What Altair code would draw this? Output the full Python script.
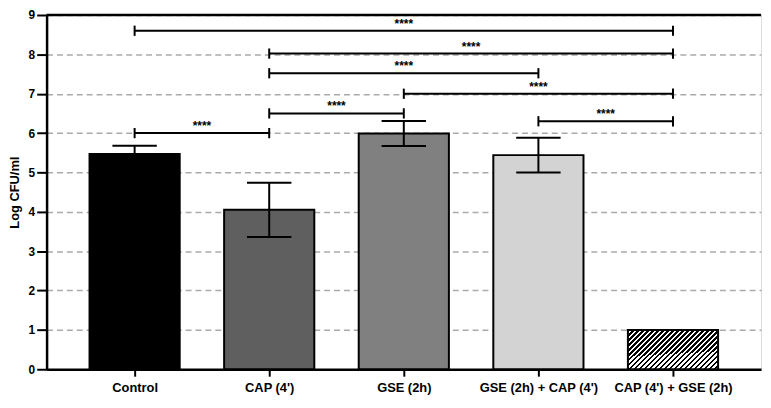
import json
import altair as alt
import pandas as pd

# ---------------- data ----------------
groups = ["Control", "CAP (4')", "GSE (2h)", "GSE (2h) + CAP (4')", "CAP (4') + GSE (2h)"]
means = [5.47, 4.05, 5.99, 5.44, 1.0]
errors = [0.21, 0.69, 0.32, 0.44, 0.0]
fills = ["#000000", "#5f5f5f", "#808080", "#d3d3d3", "hatch"]

br_from = [0, 1, 1, 2, 1, 3, 0]
br_to = [4, 4, 3, 4, 2, 4, 1]
br_level = [8.6, 8.02, 7.52, 7.0, 6.5, 6.3, 6.0]
br_label = ["****", "****", "****", "****", "****", "****", "****"]

y_ticks = [0, 1, 2, 3, 4, 5, 6, 7, 8, 9]
y_top = [9]

# ---------------- tables ----------------
bars = pd.DataFrame({"idx": list(range(len(groups))), "group": groups,
                     "mean": means, "err": errors, "fill": fills})
brackets = pd.DataFrame({"from": br_from, "to": br_to, "level": br_level, "label": br_label})
top = pd.DataFrame({"v": y_top})

xscale = alt.Scale(domain=[-0.654, 4.654], nice=False, zero=False)
yscale = alt.Scale(domain=[0, 9], nice=False)

label_expr = json.dumps(groups) + "[datum.value]"

x_axis = alt.Axis(values=[0, 1, 2, 3, 4], tickCount=20, labelExpr=label_expr, title=None, grid=False,
                  labelFontSize=13, labelFontWeight="bold", labelColor="black",
                  tickSize=7, tickWidth=2, tickColor="black", labelPadding=5,
                  domainColor="black", domainWidth=2.5, labelFlush=False, labelOverlap=False)
y_axis = alt.Axis(values=y_ticks, tickCount=20, format="d", title="Log CFU/ml",
                  titleFontSize=13, titleFontWeight="bold",
                  titleColor="black", titleX=-25, titleY=179,
                  labelFontSize=12, labelFontWeight="bold", labelColor="black",
                  labelOverlap=False, labelFlush=False,
                  tickSize=10, tickWidth=2, tickColor="black", labelPadding=2,
                  domainColor="black", domainWidth=2.5,
                  grid=True, gridDash=[6, 4], gridColor="#aaaaaa", gridWidth=1.5)


def X(field):
    return alt.X(field, scale=xscale, axis=x_axis)


def Y(field):
    return alt.Y(field, scale=yscale, axis=y_axis)


base = alt.Chart(bars).transform_calculate(
    lo="datum.idx - 0.335", hi="datum.idx + 0.335", base="0",
    ylo="datum.mean - datum.err", yhi="datum.mean + datum.err",
    clo="datum.idx - 0.165", chi="datum.idx + 0.165")

solid = base.transform_filter("datum.fill != 'hatch'").mark_bar(
    stroke="black", strokeWidth=2).encode(
    x=X("lo:Q"), x2="hi:Q", y=Y("mean:Q"), y2="base:Q",
    fill=alt.Fill("fill:N", scale=None),
)

# diagonal hatch via hard-stop linear gradient
n = 26
stops = []
for k in range(n):
    s, m, e = k / n, (k + 0.5) / n, (k + 1) / n
    stops += [alt.GradientStop(color="black", offset=s), alt.GradientStop(color="black", offset=m),
              alt.GradientStop(color="white", offset=m), alt.GradientStop(color="white", offset=e)]
hatch_fill = alt.LinearGradient(gradient="linear", stops=stops, x1=0, y1=0, x2=1.206, y2=0.532)

hatched = base.transform_filter("datum.fill == 'hatch'").mark_bar(
    fill=hatch_fill, stroke="black", strokeWidth=2).encode(
    x=X("lo:Q"), x2="hi:Q", y=Y("mean:Q"), y2="base:Q")

eb = base.transform_filter("datum.err > 0")
err_v = eb.mark_rule(color="black", strokeWidth=2).encode(
    x=X("idx:Q"), y=Y("ylo:Q"), y2="yhi:Q")
cap_hi = eb.mark_rule(color="black", strokeWidth=2).encode(
    x=X("clo:Q"), x2="chi:Q", y=Y("yhi:Q"))
cap_lo = eb.mark_rule(color="black", strokeWidth=2).encode(
    x=X("clo:Q"), x2="chi:Q", y=Y("ylo:Q"))

bbase = alt.Chart(brackets)
br_line = bbase.mark_rule(color="black", strokeWidth=2).encode(
    x=X("from:Q"), x2="to:Q", y=Y("level:Q"))
br_ends = bbase.transform_fold(["from", "to"], as_=["side", "pos"]).transform_calculate(
    e0="datum.level - 0.13", e1="datum.level + 0.13").mark_rule(
    color="black", strokeWidth=2).encode(
    x=X("pos:Q"), y=Y("e0:Q"), y2="e1:Q")
br_text = bbase.transform_calculate(mid="(datum.from + datum.to) / 2").mark_text(
    fontSize=12, fontWeight="bold", color="black", baseline="alphabetic", dy=-3).encode(
    x=X("mid:Q"), y=Y("level:Q"), text="label:N")

top_rule = alt.Chart(top).mark_rule(color="black", strokeWidth=2.5).encode(
    y=Y("v:Q"))

chart = alt.layer(solid, hatched, err_v, cap_hi, cap_lo, br_line, br_ends, br_text, top_rule).properties(
    width=722, height=358,
    autosize=alt.AutoSizeParams(type="none"),
    padding={"left": 39, "top": 5, "right": 2, "bottom": 30},
).configure_view(stroke="#999999", strokeWidth=1).configure(
    font="Liberation Sans", background="white")

chart.save("out.html", embed_options={"renderer": "svg", "actions": False})
